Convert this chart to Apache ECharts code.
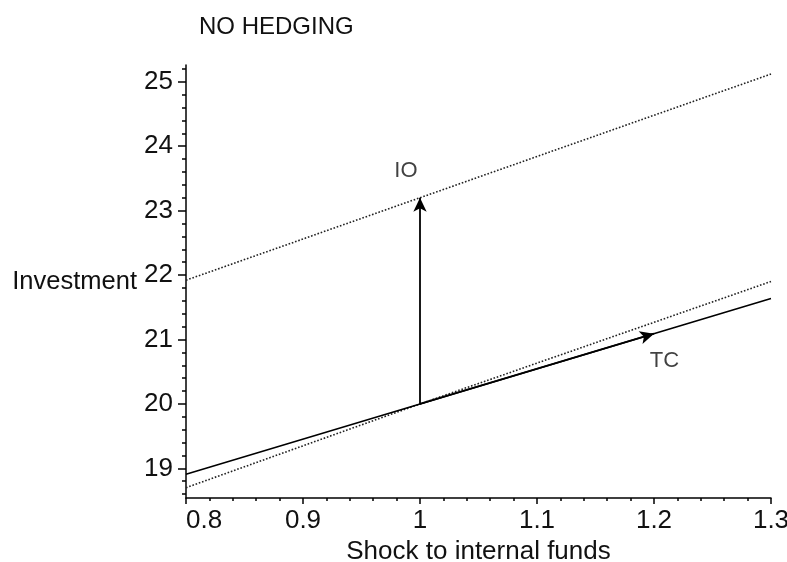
<!DOCTYPE html>
<html>
<head>
<meta charset="utf-8">
<script src="https://cdn.jsdelivr.net/npm/echarts@6/dist/echarts.min.js"></script>
<style>
  html, body { margin: 0; padding: 0; background: #fff; }
  #chart { width: 787px; height: 562px; }
</style>
</head>
<body>
<div id="chart"></div>
<script>
// data
var shockX = [0.8, 1.0, 1.3];
var ioDotted = [21.92, 23.2, 25.12];
var tcDotted = [18.7, 20, 21.9];
var tcSolid = [18.91, 20, 21.635];

var ioArrow = [[1, 20], [1, 23.2]];
var tcArrow = [[1, 20], [1.2, 21.09]];

var xMajor = [0.8, 0.9, 1, 1.1, 1.2, 1.3];
var xMinor = [];
for (var i = 0; i <= 25; i++) xMinor.push(+(0.8 + i * 0.02).toFixed(2));
var yMajor = [19, 20, 21, 22, 23, 24, 25];
var yMinor = [];
for (var j = 0; j <= 33; j++) yMinor.push(+(18.6 + j * 0.2).toFixed(1));

var notes = [
    { name: 'IO', value: [0.988, 23.62] },
    { name: 'TC', value: [1.209, 20.67] }
];

var fontName = 'Liberation Sans';
var xMin = 0.8, xMax = 1.3, yMin = 18.54, yMax = 25.26;

function pairs(xs, ys) {
    var out = [];
    for (var k = 0; k < xs.length; k++) out.push([xs[k], ys[k]]);
    return out;
}

var myChart = echarts.init(document.getElementById('chart'));

var option = {
    animation: false,
    backgroundColor: '#fff',
    title: {
        text: 'NO HEDGING',
        left: 194,
        top: 10,
        textStyle: { fontFamily: fontName, fontSize: 24, fontWeight: 'normal', color: '#111' }
    },
    grid: { left: 186, right: 16, top: 65, bottom: 64, containLabel: false, outerBoundsMode: 'none' },
    xAxis: [
        {
            type: 'value',
            min: xMin,
            max: xMax,
            name: 'Shock to internal funds',
            nameLocation: 'middle',
            nameGap: 40,
            nameTextStyle: { fontFamily: fontName, fontSize: 26, color: '#111' },
            axisLine: { show: true, lineStyle: { color: '#000', width: 1.5 } },
            axisTick: { show: true, length: 6, customValues: xMajor, lineStyle: { color: '#000', width: 1.5 } },
            axisLabel: {
                customValues: xMajor,
                fontFamily: fontName, fontSize: 26, color: '#111', margin: 10,
                alignMinLabel: 'left'
            },
            splitLine: { show: false }
        },
        {
            type: 'value',
            min: xMin,
            max: xMax,
            position: 'bottom',
            axisLine: { show: false },
            axisTick: { show: true, length: 3, customValues: xMinor, lineStyle: { color: '#000', width: 1.5 } },
            axisLabel: { show: false },
            splitLine: { show: false }
        }
    ],
    yAxis: [
        {
            type: 'value',
            min: yMin,
            max: yMax,
            name: 'Investment',
            nameLocation: 'middle',
            nameRotate: 0,
            nameGap: 49,
            nameTextStyle: { fontFamily: fontName, fontSize: 25.5, color: '#111', align: 'right', padding: [12, 0, 0, 0] },
            axisLine: { show: true, lineStyle: { color: '#000', width: 1.5 } },
            axisTick: { show: true, length: 8, customValues: yMajor, lineStyle: { color: '#000', width: 1.5 } },
            axisLabel: { customValues: yMajor, fontFamily: fontName, fontSize: 26, color: '#111', margin: 13 },
            splitLine: { show: false }
        },
        {
            type: 'value',
            min: yMin,
            max: yMax,
            position: 'left',
            axisLine: { show: false },
            axisTick: { show: true, length: 4, customValues: yMinor, lineStyle: { color: '#000', width: 1.5 } },
            axisLabel: { show: false },
            splitLine: { show: false }
        }
    ],
    series: [
        {
            name: 'IO dotted',
            type: 'line',
            symbol: 'none',
            data: pairs(shockX, ioDotted),
            lineStyle: { color: '#222', width: 1.6, type: [1.6, 1.8] }
        },
        {
            name: 'TC dotted',
            type: 'line',
            symbol: 'none',
            data: pairs(shockX, tcDotted),
            lineStyle: { color: '#222', width: 1.6, type: [1.6, 1.8] }
        },
        {
            name: 'TC solid',
            type: 'line',
            symbol: 'none',
            data: pairs(shockX, tcSolid),
            lineStyle: { color: '#000', width: 1.6 }
        },
        {
            name: 'arrows',
            type: 'line',
            data: [],
            markLine: {
                silent: true,
                symbol: ['none', 'arrow'],
                symbolSize: [10, 14],
                label: { show: false },
                lineStyle: { color: '#000', width: 1.8, type: 'solid' },
                data: [
                    [{ coord: ioArrow[0] }, { coord: ioArrow[1] }],
                    [{ coord: tcArrow[0] }, { coord: tcArrow[1] }]
                ]
            }
        },
        {
            name: 'notes',
            type: 'scatter',
            symbolSize: 0,
            data: notes,
            label: {
                show: true,
                position: 'inside',
                formatter: '{b}',
                fontFamily: fontName,
                fontSize: 22,
                color: '#111'
            }
        }
    ]
};

myChart.setOption(option, true);
</script>
</body>
</html>
